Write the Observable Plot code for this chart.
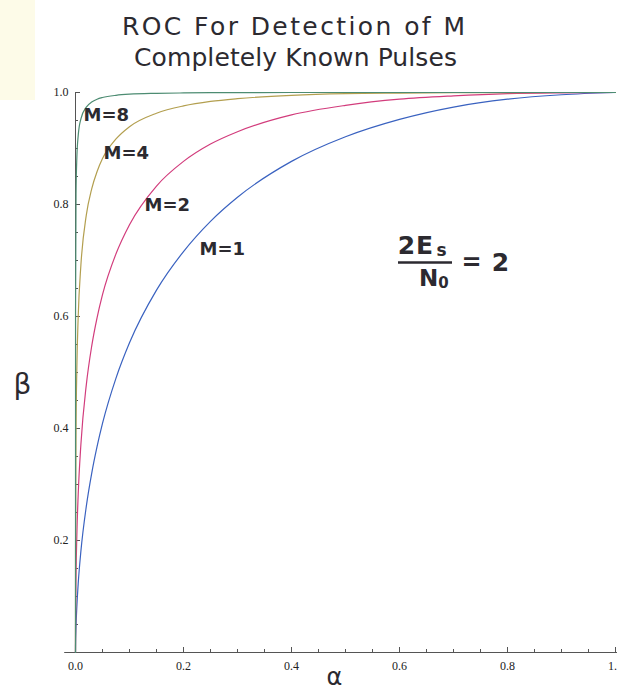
<!DOCTYPE html>
<html>
<head>
<meta charset="utf-8">
<script src="https://cdn.jsdelivr.net/npm/d3@7"></script>
<script src="https://cdn.jsdelivr.net/npm/@observablehq/plot@0.6"></script>
<style>
  body { margin: 0; background: #fff; }
  #wrap { position: relative; width: 617px; height: 692px; overflow: hidden; background: #fff; }
  #note { position: absolute; left: 0; top: 0; width: 35px; height: 100px; background: #fdfbe8; }
  #title { position: absolute; left: 0; top: 0; }
  #title text { font-family: "DejaVu Sans", sans-serif; font-size: 25px; fill: #2c2a30; }
  #chart { position: absolute; left: 0; top: 0; }
</style>
</head>
<body>
<div id="wrap">
  <div id="note"></div>
  <svg id="title" width="617" height="90">
    <text x="122" y="35" textLength="343" lengthAdjust="spacing">ROC For Detection of M</text>
    <text x="134" y="66" textLength="323" lengthAdjust="spacing">Completely Known Pulses</text>
  </svg>
  <div id="chart"></div>
</div>
<script>
// False-alarm probability α at which each curve is sampled
const alpha = [0, 0.0001, 0.001, 0.0025, 0.005, 0.01, 0.02, 0.03, 0.04, 0.05, 0.075, 0.1,
               0.15, 0.2, 0.25, 0.3, 0.4, 0.5, 0.6, 0.7, 0.8, 0.9, 1.0];

// Detection probability β for M pulses
const betaM1 = [0, 0.011, 0.047, 0.082, 0.123, 0.181, 0.261, 0.320, 0.368, 0.409, 0.490, 0.553,
                0.647, 0.716, 0.770, 0.813, 0.877, 0.921, 0.952, 0.974, 0.988, 0.996, 1.0];
const betaM2 = [0, 0.043, 0.138, 0.210, 0.282, 0.372, 0.478, 0.547, 0.598, 0.639, 0.712, 0.764,
                0.833, 0.877, 0.908, 0.930, 0.960, 0.977, 0.988, 0.994, 0.998, 0.9995, 1.0];
const betaM4 = [0, 0.186, 0.397, 0.508, 0.600, 0.692, 0.781, 0.828, 0.859, 0.882, 0.917, 0.939,
                0.963, 0.976, 0.984, 0.989, 0.995, 0.998, 0.999, 0.9996, 0.9999, 1.0, 1.0];
const betaM8 = [0, 0.611, 0.819, 0.884, 0.923, 0.953, 0.974, 0.983, 0.988, 0.991, 0.995, 0.997,
                0.9985, 0.9992, 0.9996, 0.9997, 1.0, 1.0, 1.0, 1.0, 1.0, 1.0, 1.0];

const seriesNames = ["M=1", "M=2", "M=4", "M=8"];
const seriesColors = ["#3a62c0", "#d23c7c", "#b39f4f", "#4d8c72"];

// Axis ticks
const xMajor = [0, 0.2, 0.4, 0.6, 0.8, 1.0];
const xMinor = [0.05, 0.1, 0.15, 0.25, 0.3, 0.35, 0.45, 0.5, 0.55, 0.65, 0.7, 0.75, 0.85, 0.9, 0.95];
const yMajor = [0.2, 0.4, 0.6, 0.8, 1.0];
const yMinor = [0.05, 0.1, 0.15, 0.25, 0.3, 0.35, 0.45, 0.5, 0.55, 0.65, 0.7, 0.75, 0.85, 0.9, 0.95];

// Curve labels written next to each curve
const labelText = ["M=1", "M=2", "M=4", "M=8"];
const labelAlpha = [0.272, 0.170, 0.094, 0.057];
const labelBeta = [0.721, 0.798, 0.891, 0.959];

const W = 617, H = 692, mt = 92, mb = 40, ml = 75, mr = 2;
const px = 1 / (W - ml - mr);   // one pixel in α units
const py = 1 / (H - mt - mb);   // one pixel in β units

const betas = [betaM1, betaM2, betaM4, betaM8];
const rows = seriesNames.flatMap((m, k) => alpha.map((a, i) => ({M: m, a, b: betas[k][i]})));
const labels = labelText.map((t, i) => ({t, a: labelAlpha[i], b: labelBeta[i]}));

const hand = "DejaVu Sans, sans-serif";
const serif = "Liberation Serif, serif";
const ink = "#2c2a30";
const axisInk = "#555";
const handText = (s, dx, dy, size) => Plot.text([s], {
  frameAnchor: "top-left", dx, dy, fontFamily: hand, fontSize: size, fontWeight: "bold",
  fill: ink, textAnchor: "middle", lineAnchor: "middle"
});

const chart = Plot.plot({
  width: W, height: H,
  marginTop: mt, marginBottom: mb, marginLeft: ml, marginRight: mr,
  style: {background: "transparent"},
  x: {domain: [0, 1]},
  y: {domain: [0, 1]},
  color: {domain: seriesNames, range: seriesColors},
  marks: [
    // tick labels
    Plot.axisX({ticks: xMajor, tickSize: 0, tickPadding: 9, tickFormat: d3.format(".1f"), label: null,
                fontFamily: serif, fontSize: 12, fill: "#222"}),
    Plot.axisY({ticks: yMajor, tickSize: 0, tickPadding: 7, tickFormat: d3.format(".1f"), label: null,
                fontFamily: serif, fontSize: 12, fill: "#222"}),

    // axes crossing at the origin, ticks pointing inward
    Plot.ruleY([0], {x1: -0.02, x2: 1.01, stroke: axisInk, strokeWidth: 1}),
    Plot.ruleX([0], {y1: 0, y2: 1, stroke: axisInk, strokeWidth: 1}),
    Plot.ruleX(xMajor, {x: d => d, y1: 0, y2: 5 * py, stroke: axisInk}),
    Plot.ruleX(xMinor, {x: d => d, y1: 0, y2: 3 * py, stroke: axisInk}),
    Plot.ruleY(yMajor, {y: d => d, x1: 0, x2: 5 * px, stroke: axisInk}),
    Plot.ruleY(yMinor, {y: d => d, x1: 0, x2: 3 * px, stroke: axisInk}),

    // ROC curves
    Plot.line(rows, {x: "a", y: "b", z: "M", stroke: "M", curve: "monotone-x", strokeWidth: 1.2}),

    // curve labels
    Plot.text(labels, {x: "a", y: "b", text: "t", fontFamily: hand, fontWeight: "bold",
                       fontSize: 18, fill: ink, textAnchor: "middle", lineAnchor: "middle"}),

    // 2Es / N0 = 2
    handText("2", 331, 153, 25),
    handText("E", 349, 153, 25),
    handText("s", 366, 158, 17),
    Plot.ruleY([(H - mb - 262) * py], {x1: (398 - ml) * px, x2: (452 - ml) * px, stroke: ink, strokeWidth: 2.5}),
    handText("N", 353, 186, 23),
    handText("0", 368, 191, 15),
    handText("=", 396, 170, 24),
    handText("2", 425, 170, 25),

    // axis letters
    Plot.text(["β"], {frameAnchor: "left", dx: -53, dy: 13, fontFamily: hand, fontSize: 28, fill: ink, textAnchor: "middle", lineAnchor: "middle"}),
    Plot.text(["α"], {frameAnchor: "bottom", dx: -11, dy: 25, fontFamily: hand, fontSize: 24, fill: ink, textAnchor: "middle", lineAnchor: "middle"})
  ]
});
document.getElementById("chart").append(chart);
</script>
</body>
</html>
